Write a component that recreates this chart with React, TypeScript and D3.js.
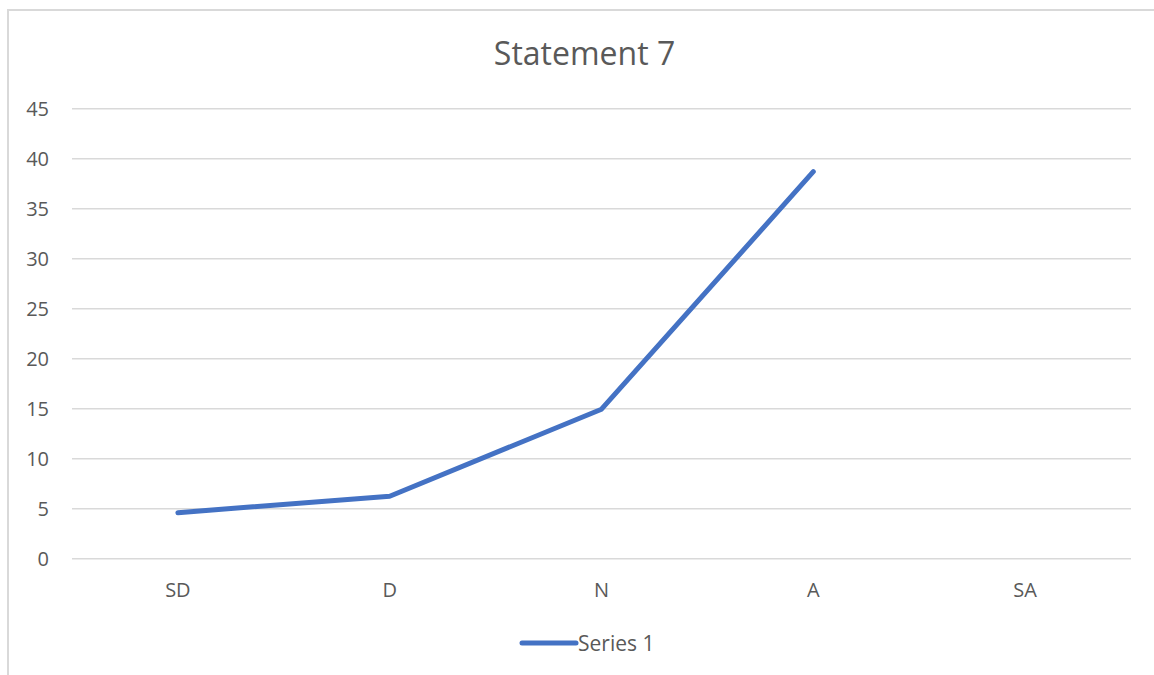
import React from "react";
import * as d3 from "d3";

const categories = ["SD", "D", "N", "A", "SA"];
const seriesValues: (number | null)[] = [4.6, 6.25, 14.95, 38.7, null];
const yTicks = [0, 5, 10, 15, 20, 25, 30, 35, 40, 45];
const seriesName = "Series 1";
const title = "Statement 7";

const W = 1154;
const H = 675;
const plot = { left: 72, right: 1131, top: 108.7, bottom: 558.7 };
const font = "'Open Sans', 'Noto Sans', sans-serif";
const textColor = "#595959";
const lineColor = "#4472C4";

export default function App() {
  const x = d3.scaleBand<string>().domain(categories).range([plot.left, plot.right]);
  const y = d3.scaleLinear().domain([0, 45]).range([plot.bottom, plot.top]);
  const pts = categories.map((c, i) => ({ c, v: seriesValues[i] }));
  const line = d3
    .line<{ c: string; v: number | null }>()
    .defined((d) => d.v !== null)
    .x((d) => (x(d.c) as number) + x.bandwidth() / 2)
    .y((d) => y(d.v as number));

  return (
    <svg
      width={W}
      height={H}
      style={{ position: "absolute", left: 0, top: 0, background: "#fff" }}
      fontFamily={font}
    >
      <rect x={8} y={10} width={1160} height={700} fill="#fff" stroke="#d9d9d9" strokeWidth={2} />
      <text x={584.5} y={65} textAnchor="middle" fontSize={32} fill={textColor}>
        {title}
      </text>
      {yTicks.map((t) => (
        <g key={t}>
          <line x1={plot.left} x2={plot.right} y1={y(t)} y2={y(t)} stroke="#d9d9d9" strokeWidth={1.5} />
          <text x={49} y={y(t) + 7} textAnchor="end" fontSize={20} fill={textColor}>
            {t}
          </text>
        </g>
      ))}
      {categories.map((c) => (
        <text
          key={c}
          x={(x(c) as number) + x.bandwidth() / 2}
          y={597}
          textAnchor="middle"
          fontSize={20}
          fill={textColor}
        >
          {c}
        </text>
      ))}
      <path d={line(pts) || ""} fill="none" stroke={lineColor} strokeWidth={5} strokeLinecap="round" strokeLinejoin="round" />
      <line x1={522} x2={576} y1={643} y2={643} stroke={lineColor} strokeWidth={5} strokeLinecap="round" />
      <text x={578} y={651} fontSize={21} fill={textColor}>
        {seriesName}
      </text>
    </svg>
  );
}
